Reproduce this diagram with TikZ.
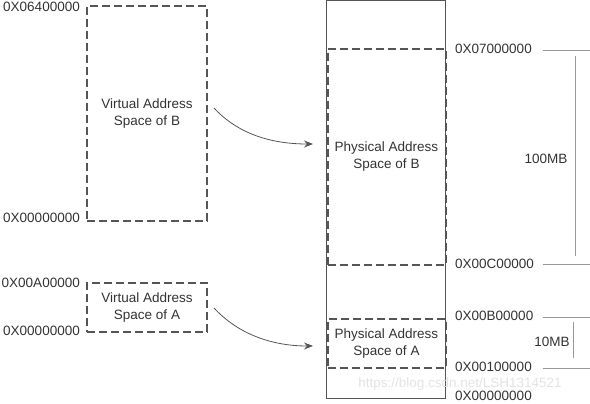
\documentclass[tikz,border=0pt]{standalone}
\usepackage{fontspec}
\setmainfont{Liberation Sans}
\usetikzlibrary{arrows.meta}
\definecolor{txt}{HTML}{333333}
\definecolor{ln}{HTML}{555555}
\begin{document}
\begin{tikzpicture}[x=1pt,y=-1pt,
  every node/.style={font=\fontsize{13.5}{17}\selectfont, text=txt, inner sep=0pt},
  dbox/.style={draw=ln, line width=2pt, dash pattern=on 8pt off 4pt, align=center},
  colbox/.style={draw=ln, line width=1pt},
  tick/.style={draw=gray!80, line width=0.8pt},
  arr/.style={draw=ln, line width=0.8pt, -{Stealth[length=9pt,width=7pt]}}]
\useasboundingbox (0,0) rectangle (590,404);
% memory column
\node[colbox, minimum width=119pt, minimum height=398pt] (col) at (385.5,199.5) {};
% boxes
\node[dbox, minimum width=120pt, minimum height=215pt] (vb) at (147,113.5) {Virtual Address\\Space of B};
\node[dbox, minimum width=120pt, minimum height=49pt] (va) at (147,307.5) {Virtual Address\\Space of A};
\node[dbox, minimum width=118pt, minimum height=216pt] (pb) at (386.5,157) {Physical Address\\Space of B};
\node[dbox, minimum width=118pt, minimum height=49pt] (pa) at (386.5,343.5) {Physical Address\\Space of A};
% left labels
\node[anchor=east] (l1) at (80,7) {0X06400000};
\node[anchor=east] (l2) at (80,218) {0X00000000};
\node[anchor=east] (l3) at (80,283) {0X00A00000};
\node[anchor=east] (l4) at (80,331) {0X00000000};
% right labels
\node[anchor=west] (r1) at (455,49) {0X07000000};
\node[anchor=west] (r2) at (455,264) {0X00C00000};
\node[anchor=west] (r3) at (455,316) {0X00B00000};
\node[anchor=west] (r4) at (455,367) {0X00100000};
\node[anchor=west] (r5) at (455,396) {0X00000000};
% size markers
\coordinate (t1a) at (543,50); \coordinate (t1b) at (590,50);
\coordinate (t2a) at (543,264); \coordinate (t2b) at (590,264);
\coordinate (v1a) at (575,56); \coordinate (v1b) at (575,256);
\coordinate (t3a) at (543,317); \coordinate (t3b) at (590,317);
\coordinate (t4a) at (543,368); \coordinate (t4b) at (590,368);
\coordinate (v2a) at (573,322); \coordinate (v2b) at (573,358);
\draw[tick] (t1a) -- (t1b);
\draw[tick] (t2a) -- (t2b);
\draw[tick] (v1a) -- (v1b);
\draw[tick] (t3a) -- (t3b);
\draw[tick] (t4a) -- (t4b);
\draw[tick] (v2a) -- (v2b);
\node (s1) at (546,159) {100MB};
\node (s2) at (552,342) {10MB};
% arrows
\coordinate (b1) at (214,108); \coordinate (b2) at (313,144);
\coordinate (a1) at (214,308); \coordinate (a2) at (313,346);
\draw[arr] (b1) .. controls (240,136) and (275,144) .. (b2);
\draw[arr] (a1) .. controls (240,336) and (275,346) .. (a2);
% watermark
\node[text=gray!22] (wm) at (460,384) {https://blog.csdn.net/LSH1314521};
\end{tikzpicture}
\end{document}
